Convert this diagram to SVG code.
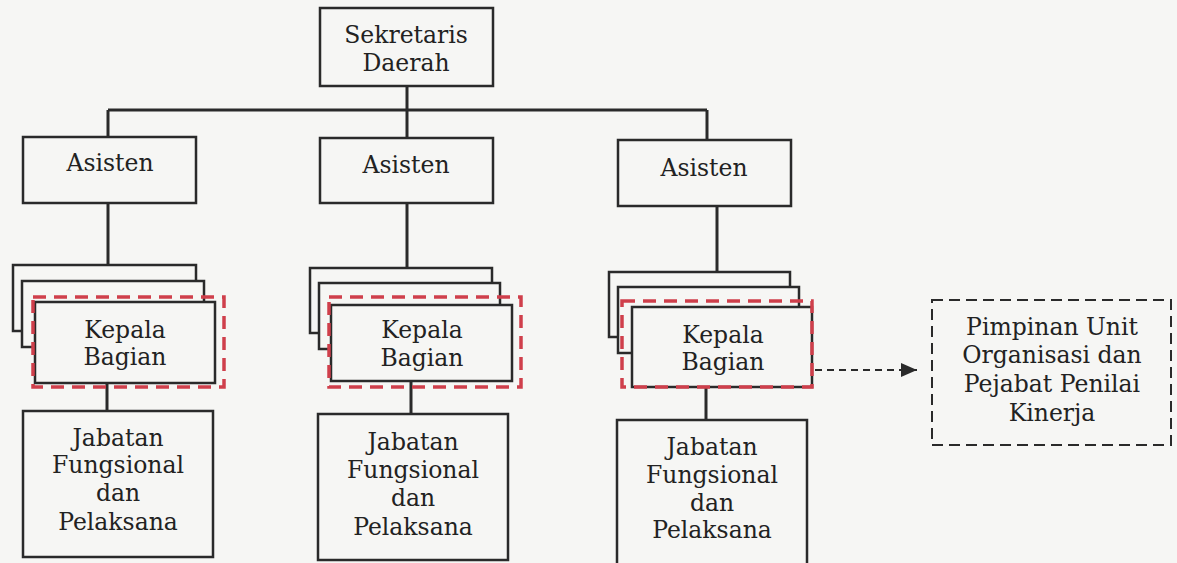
<svg xmlns="http://www.w3.org/2000/svg" width="1177" height="563" viewBox="0 0 1177 563">
<defs>
<style>
.bx{fill:#f6f6f4;stroke:#2a2a2a;stroke-width:2.5}
.red{fill:none;stroke:#cf3f4b;stroke-width:3.5;stroke-dasharray:13 8}
.dbx{fill:#f6f6f4;stroke:#2a2a2a;stroke-width:2;stroke-dasharray:11 6}
.ln{fill:none;stroke:#2a2a2a;stroke-width:3}
.dl{fill:none;stroke:#2a2a2a;stroke-width:2;stroke-dasharray:7 5}
text{font-family:"DejaVu Serif","Liberation Serif",serif;font-size:23.5px;fill:#222;text-anchor:middle}
</style>
<marker id="ah2" viewBox="0 0 16 14" refX="16" refY="7" markerWidth="16" markerHeight="14" orient="auto" markerUnits="userSpaceOnUse">
<path d="M0,0 L16,7 L0,14 Z" fill="#2a2a2a"/>
</marker>
</defs>
<rect width="1177" height="563" fill="#f6f6f4"/>
<g id="connectors">
<path class="ln" d="M407,86 V110 M108,110 H707 M108,110 V137 M407,110 V138 M707,110 V140"/>
<path class="ln" d="M108,203 V265 M407,203 V268 M717,206 V272"/>
<path class="ln" d="M107,383 V411 M411,381 V414 M706,387 V420"/>
<path class="dl" d="M815,370 H917" marker-end="url(#ah2)"/>
</g>
<g id="sekda">
<rect class="bx" x="320" y="8" width="173" height="78"/>
<text x="406" y="43">Sekretaris</text>
<text x="406" y="71">Daerah</text>
</g>
<g id="asisten1">
<rect class="bx" x="23" y="137" width="173" height="66"/>
<text x="110" y="171">Asisten</text>
</g>
<g id="asisten2">
<rect class="bx" x="320" y="138" width="173" height="65"/>
<text x="406" y="173">Asisten</text>
</g>
<g id="asisten3">
<rect class="bx" x="618" y="140" width="173" height="66"/>
<text x="704" y="176">Asisten</text>
</g>
<g id="kabag1">
<rect class="bx" x="13" y="265" width="183" height="66"/>
<rect class="bx" x="22" y="281" width="182" height="66"/>
<rect class="bx" x="35" y="302" width="180" height="81"/>
<rect class="red" x="33" y="297" width="191" height="90"/>
<text x="125" y="338">Kepala</text>
<text x="125" y="365">Bagian</text>
</g>
<g id="kabag2">
<rect class="bx" x="310" y="268" width="182" height="65"/>
<rect class="bx" x="319" y="283" width="181" height="66"/>
<rect class="bx" x="331" y="305" width="181" height="76"/>
<rect class="red" x="329" y="297" width="192" height="90"/>
<text x="422" y="338">Kepala</text>
<text x="422" y="366">Bagian</text>
</g>
<g id="kabag3">
<rect class="bx" x="609" y="272" width="181" height="65"/>
<rect class="bx" x="618" y="287" width="181" height="66"/>
<rect class="bx" x="632" y="307" width="180" height="80"/>
<rect class="red" x="622" y="301" width="190" height="86"/>
<text x="723" y="343">Kepala</text>
<text x="723" y="370">Bagian</text>
</g>
<g id="jf1">
<rect class="bx" x="23" y="411" width="190" height="146"/>
<text x="118" y="446">Jabatan</text>
<text x="118" y="473">Fungsional</text>
<text x="118" y="501">dan</text>
<text x="118" y="530">Pelaksana</text>
</g>
<g id="jf2">
<rect class="bx" x="318" y="414" width="190" height="146"/>
<text x="413" y="450">Jabatan</text>
<text x="413" y="478">Fungsional</text>
<text x="413" y="506">dan</text>
<text x="413" y="535">Pelaksana</text>
</g>
<g id="jf3">
<rect class="bx" x="617" y="420" width="190" height="150"/>
<text x="712" y="455">Jabatan</text>
<text x="712" y="483">Fungsional</text>
<text x="712" y="511">dan</text>
<text x="712" y="538">Pelaksana</text>
</g>
<g id="pimpinan">
<rect class="dbx" x="932" y="300" width="239" height="145"/>
<text x="1052" y="335">Pimpinan Unit</text>
<text x="1052" y="363">Organisasi dan</text>
<text x="1052" y="392">Pejabat Penilai</text>
<text x="1052" y="421">Kinerja</text>
</g>
</svg>
